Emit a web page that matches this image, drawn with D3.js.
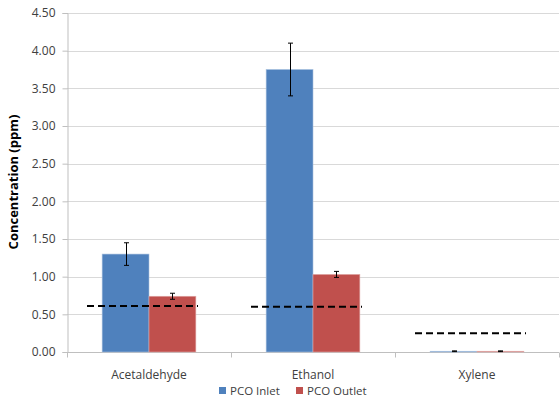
<!DOCTYPE html>
<html>
<head>
<meta charset="utf-8">
<script src="https://cdn.jsdelivr.net/npm/d3@7"></script>
<style>
body { margin: 0; background: #fff; }
svg text { font-family: "Open Sans", "Liberation Sans", sans-serif; fill: #404040; }
</style>
</head>
<body>
<svg id="chart" width="560" height="402"></svg>
<script>
const categories = ["Acetaldehyde", "Ethanol", "Xylene"];
const seriesNames = ["PCO Inlet", "PCO Outlet"];
const inletValues = [1.30, 3.75, 0.01];
const inletErrors = [0.15, 0.35, 0.005];
const outletValues = [0.74, 1.03, 0.01];
const outletErrors = [0.04, 0.04, 0.005];
const thresholdValues = [0.61, 0.60, 0.25];
const yTicks = [0, 0.5, 1, 1.5, 2, 2.5, 3, 3.5, 4, 4.5];
const colors = ["#4f81bd", "#c0504d"];

const svg = d3.select("#chart");
const pLeft = 67, pRight = 559, pTop = 13, pBottom = 352;

const x = d3.scaleBand().domain(categories).range([pLeft, pRight]);
// Excel gap width 150%: bar width = band / (2 + 1.5)
const bw = x.bandwidth() / 3.5;
const groupOffset = (x.bandwidth() - 2 * bw) / 2;
const y = d3.scaleLinear().domain([0, 4.5]).range([pBottom, pTop]);

// gridlines
svg.append("g").selectAll("line").data(yTicks).join("line")
  .attr("x1", pLeft).attr("x2", pRight)
  .attr("y1", d => Math.round(y(d)) + 0.5).attr("y2", d => Math.round(y(d)) + 0.5)
  .attr("stroke", "#d9d9d9").attr("stroke-width", 1);

// y axis
const yAxis = d3.axisLeft(y).tickValues(yTicks).tickFormat(d3.format(".2f")).tickSize(5).tickPadding(7);
const yg = svg.append("g").attr("transform", `translate(${pLeft + 0.5},0)`).call(yAxis);
yg.select(".domain").attr("stroke", "#bfbfbf");
yg.selectAll(".tick line").attr("stroke", "#bfbfbf");
yg.selectAll(".tick text").attr("font-size", 12).attr("fill", "#404040")
  .style("font-family", '"Open Sans", sans-serif');

// x axis
const xg = svg.append("g").attr("transform", `translate(0,${pBottom + 0.5})`);
xg.append("line").attr("x1", pLeft).attr("x2", pRight).attr("stroke", "#bfbfbf");
const bounds = [pLeft].concat(categories.map(c => x(c) + x.bandwidth()));
xg.selectAll(".tk").data(bounds).join("line").attr("class", "tk")
  .attr("x1", d => Math.round(d) + 0.5).attr("x2", d => Math.round(d) + 0.5)
  .attr("y1", 0).attr("y2", 5).attr("stroke", "#bfbfbf");
xg.selectAll("text").data(categories).join("text")
  .attr("x", d => x(d) + x.bandwidth() / 2).attr("y", 26)
  .attr("text-anchor", "middle").attr("font-size", 12).text(d => d);

// bars
const series = [
  {name: seriesNames[0], values: inletValues, errors: inletErrors, color: colors[0]},
  {name: seriesNames[1], values: outletValues, errors: outletErrors, color: colors[1]}
];
series.forEach((s, si) => {
  const g = svg.append("g");
  categories.forEach((c, ci) => {
    const x0 = x(c) + groupOffset + si * bw;
    g.append("rect")
      .attr("x", x0).attr("width", bw)
      .attr("y", y(s.values[ci])).attr("height", pBottom - y(s.values[ci]))
      .attr("fill", s.color)
      .attr("stroke", si === 0 ? "#a7c0de" : "#e0a8a7").attr("stroke-width", 0.6);
  });
});
// error bars
series.forEach((s, si) => {
  categories.forEach((c, ci) => {
    const cx = Math.round(x(c) + groupOffset + si * bw + bw / 2) + 0.5;
    const hi = y(s.values[ci] + s.errors[ci]), lo = y(s.values[ci] - s.errors[ci]);
    const g = svg.append("g").attr("stroke", "#000").attr("stroke-width", 1);
    g.append("line").attr("x1", cx).attr("x2", cx).attr("y1", hi).attr("y2", lo);
    g.append("line").attr("x1", cx - 2.5).attr("x2", cx + 2.5).attr("y1", hi).attr("y2", hi);
    g.append("line").attr("x1", cx - 2.5).attr("x2", cx + 2.5).attr("y1", lo).attr("y2", lo);
  });
});

// threshold dashed lines
categories.forEach((c, ci) => {
  const cx = x(c) + x.bandwidth() / 2;
  svg.append("line")
    .attr("x1", cx - 62).attr("x2", cx + 49)
    .attr("y1", y(thresholdValues[ci])).attr("y2", y(thresholdValues[ci]))
    .attr("stroke", "#000").attr("stroke-width", 2).attr("stroke-dasharray", "7,4");
});

// y title
svg.append("text")
  .attr("transform", "translate(18,182) rotate(-90)")
  .attr("text-anchor", "middle").attr("font-size", 13).attr("font-weight", "bold")
  .style("fill", "#000")
  .text("Concentration (ppm)");

// legend
const legendX = [219, 296];
seriesNames.forEach((n, i) => {
  svg.append("rect").attr("x", legendX[i]).attr("y", 387).attr("width", 7).attr("height", 7).attr("fill", colors[i]);
  svg.append("text").attr("x", legendX[i] + 11).attr("y", 395).attr("font-size", 11.5).text(n);
});
</script>
</body>
</html>
